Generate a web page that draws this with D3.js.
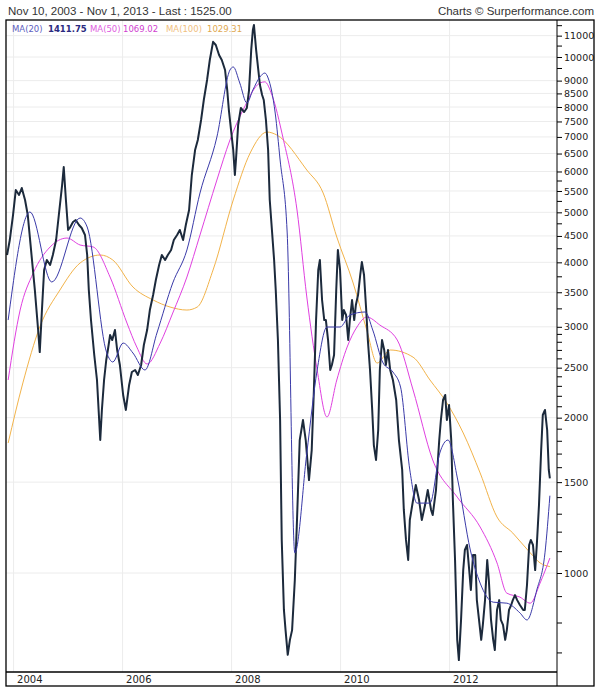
<!DOCTYPE html>
<html><head><meta charset="utf-8">
<script src="https://cdn.jsdelivr.net/npm/d3@7"></script>
<style>body{margin:0;background:#fff}svg{display:block}</style>
</head><body><svg id="c" width="600" height="694"></svg>
<script>
const price = [[2003.88,4133],[2003.93,4419],[2003.99,4941],[2004.04,5523],[2004.10,5402],[2004.15,5573],[2004.21,5283],[2004.26,4941],[2004.32,4227],[2004.39,3535],[2004.45,2957],[2004.48,2680],[2004.52,3233],[2004.56,3866],[2004.61,4042],[2004.67,3953],[2004.72,4133],[2004.78,4419],[2004.83,4941],[2004.89,5648],[2004.92,6120],[2004.96,5283],[2005.00,4621],[2005.03,4663],[2005.09,4789],[2005.14,4832],[2005.20,4725],[2005.25,4663],[2005.31,4519],[2005.35,4133],[2005.38,3535],[2005.42,3092],[2005.48,2645],[2005.53,2366],[2005.59,1810],[2005.62,2070],[2005.66,2366],[2005.70,2587],[2005.73,2705],[2005.77,2892],[2005.81,2828],[2005.86,2957],[2005.90,2705],[2005.95,2530],[2006.01,2213],[2006.06,2070],[2006.12,2314],[2006.17,2452],[2006.23,2474],[2006.28,2419],[2006.34,2530],[2006.39,2766],[2006.45,2957],[2006.50,3233],[2006.56,3457],[2006.61,3697],[2006.67,3953],[2006.72,4133],[2006.78,4042],[2006.83,4133],[2006.89,4227],[2006.94,4419],[2007.00,4519],[2007.05,4621],[2007.11,4419],[2007.16,4725],[2007.22,5052],[2007.27,5906],[2007.33,6603],[2007.38,6904],[2007.44,7549],[2007.49,8254],[2007.55,9025],[2007.60,9867],[2007.66,10700],[2007.71,10550],[2007.77,10090],[2007.82,9867],[2007.88,9437],[2007.92,8630],[2007.95,7893],[2007.99,7219],[2008.03,6603],[2008.06,5906],[2008.08,6315],[2008.12,7382],[2008.17,7965],[2008.23,7823],[2008.28,7965],[2008.32,8630],[2008.36,10320],[2008.39,11280],[2008.41,11535],[2008.45,10320],[2008.49,9437],[2008.52,8826],[2008.56,8440],[2008.59,8254],[2008.63,7549],[2008.67,6603],[2008.70,5283],[2008.74,4621],[2008.78,4042],[2008.81,3535],[2008.85,2828],[2008.89,1979],[2008.92,1159],[2008.96,848],[2008.99,775],[2009.03,694],[2009.07,742],[2009.11,775],[2009.16,969],[2009.20,1267],[2009.25,1810],[2009.31,1979],[2009.36,1810],[2009.42,1514],[2009.47,1731],[2009.51,2263],[2009.55,3092],[2009.59,3866],[2009.62,4042],[2009.66,3381],[2009.70,3092],[2009.73,3092],[2009.77,2828],[2009.81,2474],[2009.84,2530],[2009.88,2645],[2009.92,3535],[2009.95,4227],[2009.99,3866],[2010.03,3092],[2010.06,3233],[2010.10,3162],[2010.14,2828],[2010.17,3092],[2010.21,3381],[2010.25,3092],[2010.28,3306],[2010.32,3457],[2010.36,3780],[2010.39,4006],[2010.43,3780],[2010.47,3233],[2010.50,2828],[2010.54,2474],[2010.58,2070],[2010.61,1770],[2010.65,1656],[2010.69,1893],[2010.72,2474],[2010.76,2828],[2010.80,2705],[2010.83,2530],[2010.87,2705],[2010.91,2474],[2010.96,2366],[2011.02,2164],[2011.07,1810],[2011.13,1584],[2011.16,1325],[2011.20,1159],[2011.24,1060],[2011.27,1267],[2011.33,1385],[2011.38,1481],[2011.44,1385],[2011.49,1267],[2011.55,1354],[2011.60,1448],[2011.66,1325],[2011.69,1295],[2011.75,1448],[2011.81,1810],[2011.84,1979],[2011.88,2164],[2011.92,2213],[2011.95,1979],[2011.99,2116],[2012.03,1810],[2012.06,1385],[2012.10,1060],[2012.14,742],[2012.17,678],[2012.21,811],[2012.25,1013],[2012.28,1108],[2012.32,1133],[2012.36,1013],[2012.39,927],[2012.43,1084],[2012.47,1084],[2012.50,886],[2012.54,811],[2012.58,742],[2012.61,793],[2012.65,886],[2012.69,1060],[2012.72,969],[2012.76,811],[2012.80,742],[2012.83,709],[2012.87,848],[2012.91,886],[2012.94,811],[2012.98,793],[2013.02,742],[2013.05,775],[2013.09,848],[2013.13,867],[2013.16,886],[2013.20,906],[2013.24,886],[2013.29,867],[2013.35,848],[2013.38,848],[2013.42,948],[2013.46,1133],[2013.49,1159],[2013.53,1133],[2013.57,1013],[2013.60,1133],[2013.64,1354],[2013.68,1731],[2013.71,2024],[2013.75,2070],[2013.79,1893],[2013.82,1584],[2013.84,1525]];
const ma20 = [[2003.90,3092],[2004.30,5007],[2004.70,3664],[2005.22,4875],[2005.35,4683],[2005.71,2669],[2005.82,2564],[2006.01,2790],[2006.19,2669],[2006.41,2474],[2006.63,2918],[2006.92,3648],[2007.18,4227],[2007.42,5450],[2007.73,6997],[2007.97,9437],[2008.03,9565],[2008.15,8905],[2008.28,8145],[2008.39,8630],[2008.52,9147],[2008.61,9310],[2008.67,9106],[2008.80,7788],[2008.89,6315],[2009.02,4560],[2009.16,1094],[2009.38,1708],[2009.57,2474],[2009.75,2997],[2009.99,2997],[2010.17,3162],[2010.45,3205],[2010.59,2957],[2010.78,2552],[2010.96,2452],[2011.10,2293],[2011.27,1584],[2011.40,1366],[2011.64,1366],[2011.82,1708],[2011.97,1810],[2012.15,1514],[2012.38,1108],[2012.56,956],[2012.80,878],[2013.05,874],[2013.29,837],[2013.42,811],[2013.60,927],[2013.75,1094],[2013.84,1412]];
const ma50 = [[2003.90,2366],[2004.12,3233],[2004.36,3813],[2004.67,4284],[2004.98,4458],[2005.22,4322],[2005.46,4284],[2005.77,3746],[2006.08,3051],[2006.26,2741],[2006.45,2541],[2006.69,2790],[2006.92,3190],[2007.18,3746],[2007.42,4519],[2007.73,5775],[2007.97,6904],[2008.21,7893],[2008.52,8905],[2008.61,8950],[2008.74,8440],[2008.94,6997],[2009.20,5052],[2009.38,3427],[2009.57,2474],[2009.75,2006],[2009.93,2366],[2010.12,2741],[2010.30,2997],[2010.48,3134],[2010.72,3024],[2011.04,2828],[2011.33,2263],[2011.69,1656],[2012.14,1403],[2012.56,1228],[2012.87,1046],[2013.05,914],[2013.29,898],[2013.48,874],[2013.66,956],[2013.84,1069]];
const ma100 = [[2003.90,1786],[2004.17,2335],[2004.48,2997],[2004.85,3535],[2005.22,3988],[2005.59,4133],[2005.82,4042],[2006.19,3583],[2006.56,3381],[2006.87,3277],[2007.18,3233],[2007.37,3277],[2007.66,3866],[2008.03,5283],[2008.34,6514],[2008.65,7155],[2008.83,7060],[2009.38,6039],[2009.68,5450],[2009.93,4478],[2010.23,3648],[2010.48,2957],[2010.67,2552],[2010.91,2705],[2011.33,2620],[2011.64,2366],[2011.95,2135],[2012.25,1868],[2012.56,1563],[2012.87,1284],[2013.16,1195],[2013.48,1094],[2013.66,1046],[2013.84,1029]];
const yearTicks = [2004, 2006, 2008, 2010, 2012];
const yLabels = [1000,1500,2000,2500,3000,3500,4000,4500,5000,5500,6000,6500,7000,7500,8000,8500,9000,10000,11000];
const yMinor = [700,800,900,1100,1200,1300,1400,1600,1700,1800,1900,2100,2200,2300,2400,2600,2700,2800,2900,3250,3750,4250,4750,5250,5750,9500,10500,11500];
const header = "Nov 10, 2003 - Nov 1, 2013 - Last : 1525.00";
const credit = "Charts \u00A9 Surperformance.com";
const legend = [["MA(20)","#6060c0",12],["1411.75","#2a2a80",48],["MA(50)","#e060e0",90],["1069.02","#d040d0",123],["MA(100)","#f0c080",166],["1029.31","#e0a850",207]];

const svg = d3.select("#c");
const L=6, R=594, T=20, B=672, AX=557, BOT=686;
const x = d3.scaleLinear().domain([2004, 2014]).range([13.6, 558.6]);
const y = d3.scaleLog().domain([1000, 10000]).range([573, 57]);

svg.append("text").attr("x",8).attr("y",15).attr("font-family","Liberation Sans, Arial").attr("font-size",11.5).attr("fill","#333").text(header);
svg.append("text").attr("x",594).attr("y",15).attr("text-anchor","end").attr("font-family","Liberation Sans, Arial").attr("font-size",11.5).attr("fill","#333").text(credit);

svg.append("defs").append("clipPath").attr("id","cl").append("rect").attr("x",L).attr("y",T).attr("width",AX-L).attr("height",B-T);

const g = svg.append("g");
g.selectAll(".hg").data(yLabels).join("line").attr("x1",L).attr("x2",AX).attr("y1",d=>y(d)).attr("y2",d=>y(d)).attr("stroke","#ececec");
g.selectAll(".vg").data(yearTicks).join("line").attr("x1",d=>x(d)).attr("x2",d=>x(d)).attr("y1",T).attr("y2",B).attr("stroke","#ececec");

const line = d3.line().x(d=>x(d[0])).y(d=>y(d[1]));
const pg = svg.append("g").attr("clip-path","url(#cl)");
pg.append("path").datum(ma100).attr("d",line.curve(d3.curveMonotoneX)).attr("fill","none").attr("stroke","#f2b34a").attr("stroke-width",1);
pg.append("path").datum(ma50).attr("d",line.curve(d3.curveMonotoneX)).attr("fill","none").attr("stroke","#e040e0").attr("stroke-width",1);
pg.append("path").datum(price).attr("d",line.curve(d3.curveLinear)).attr("fill","none").attr("stroke","#1c2a3c").attr("stroke-width",2).attr("stroke-linejoin","round");
pg.append("path").datum(ma20).attr("d",line.curve(d3.curveMonotoneX)).attr("fill","none").attr("stroke","#3a3aa8").attr("stroke-width",1);

const lg = svg.append("g").attr("font-family","DejaVu Sans, Verdana").attr("font-size",8.5);
legend.forEach((d,i)=>{ lg.append("text").attr("x",d[2]).attr("y",32).attr("fill",d[1]).attr("font-weight",i===1?"bold":"normal").text(d[0]); });

const ax = svg.append("g").attr("transform",`translate(${AX},0)`);
ax.call(d3.axisRight(y).tickValues(yLabels).tickFormat(d3.format("d")).tickSize(5).tickPadding(2));
ax.selectAll(".minor").data(yMinor).join("line").attr("x1",0).attr("x2",5).attr("y1",d=>y(d)).attr("y2",d=>y(d)).attr("stroke","#000");
ax.select(".domain").remove();
ax.selectAll("text").attr("font-family","DejaVu Sans, Verdana").attr("font-size",9.5).attr("fill","#222");
svg.append("line").attr("x1",AX).attr("x2",AX).attr("y1",T).attr("y2",BOT).attr("stroke","#000");

svg.append("line").attr("x1",L).attr("x2",AX).attr("y1",B).attr("y2",B).attr("stroke","#000").attr("stroke-width",1.3);
svg.selectAll(".xl").data(yearTicks).join("text").attr("x",d=>x(d)+3.5).attr("y",683).attr("font-family","DejaVu Sans, Verdana").attr("font-size",10).attr("fill","#222").text(d=>d);

svg.append("rect").attr("x",L).attr("y",T).attr("width",R-L).attr("height",BOT-T).attr("fill","none").attr("stroke","#000").attr("stroke-width",1.3);
</script></body></html>
